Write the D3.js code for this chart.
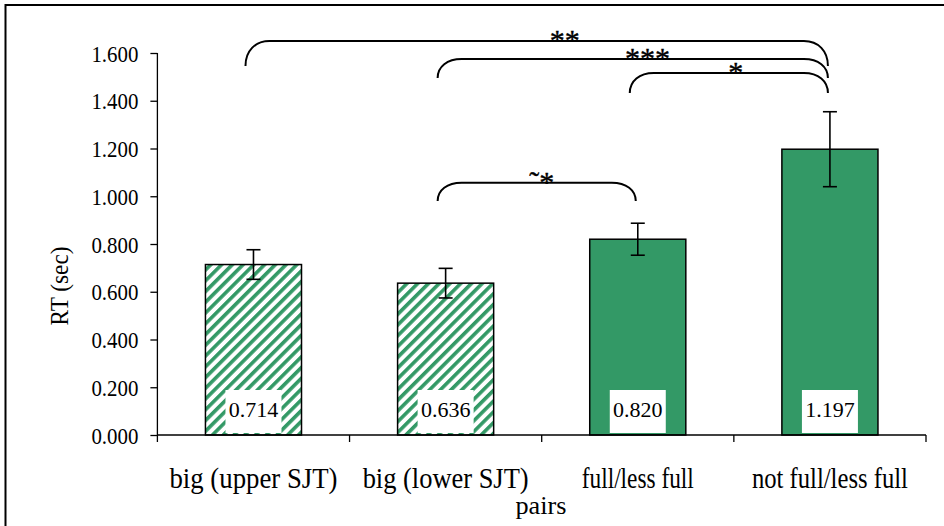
<!DOCTYPE html>
<html><head><meta charset="utf-8">
<script src="https://cdn.jsdelivr.net/npm/d3@7"></script>
<style>
html,body{margin:0;padding:0;background:#fff;}
svg{display:block;}
</style></head>
<body>
<svg id="chart" width="944" height="526"></svg>
<script>
// ---- data ----
const categories = ["big (upper SJT)", "big (lower SJT)", "full/less full", "not full/less full"];
const values = [0.714, 0.636, 0.820, 1.197];
const errors = [0.062, 0.062, 0.067, 0.157];
const hatched = [true, true, false, false];
const yTicks = [0, 0.2, 0.4, 0.6, 0.8, 1.0, 1.2, 1.4, 1.6];
const yTitle = "RT (sec)";
const xTitle = "pairs";
// significance brackets: category span, levels in data units, label
const brackets = [
  {from: 0, to: 3, top: 1.650, bottom: 1.546, label: "**", labelAt: 1.62},
  {from: 1, to: 3, top: 1.575, bottom: 1.495, label: "***", labelAt: 2.05},
  {from: 2, to: 3, top: 1.516, bottom: 1.432, label: "*", labelAt: 2.51},
  {from: 1, to: 2, top: 1.057, bottom: 0.980, label: "˜*", labelAt: 1.50}
];

// ---- layout ----
const FONT = "'Liberation Serif', 'Times New Roman', serif";
const green = "#339966";
const plot = {left: 157.4, right: 926, top: 53, bottom: 435};
const catLabelWidths = [168, 166, 112, 156];

const svg = d3.select("#chart");

// outer frame
svg.append("rect").attr("x", 5.5).attr("y", 5).attr("width", 960).attr("height", 540)
  .attr("fill", "none").attr("stroke", "#000").attr("stroke-width", 2);

// hatch pattern
const defs = svg.append("defs");
const pat = defs.append("pattern").attr("id", "hatch").attr("patternUnits", "userSpaceOnUse")
  .attr("width", 7.6).attr("height", 7.6).attr("patternTransform", "rotate(45)");
pat.append("rect").attr("width", 7.6).attr("height", 7.6).attr("fill", "#fff");
pat.append("rect").attr("x", 0).attr("width", 3.6).attr("height", 7.6).attr("fill", green);

const x = d3.scaleBand().domain(categories).range([plot.left, plot.right]).paddingInner(0).paddingOuter(0);
const y = d3.scaleLinear().domain([0, 1.6]).range([plot.bottom, plot.top]);
const barW = x.bandwidth() / 2;
const cx = i => x(categories[i]) + x.bandwidth() / 2;

// bars
svg.append("g").selectAll("rect").data(values).join("rect")
  .attr("x", (d, i) => cx(i) - barW / 2)
  .attr("y", d => y(d))
  .attr("width", barW)
  .attr("height", d => y(0) - y(d))
  .attr("fill", (d, i) => hatched[i] ? "url(#hatch)" : green)
  .attr("stroke", "#000").attr("stroke-width", 1.5);

// error bars
const eg = svg.append("g").attr("stroke", "#000").attr("stroke-width", 1.6);
values.forEach((v, i) => {
  const xc = cx(i);
  eg.append("line").attr("x1", xc).attr("x2", xc).attr("y1", y(v + errors[i])).attr("y2", y(v - errors[i]));
  eg.append("line").attr("x1", xc - 7).attr("x2", xc + 7).attr("y1", y(v + errors[i])).attr("y2", y(v + errors[i]));
  eg.append("line").attr("x1", xc - 7).attr("x2", xc + 7).attr("y1", y(v - errors[i])).attr("y2", y(v - errors[i]));
});

// value label boxes
const lg = svg.append("g");
values.forEach((v, i) => {
  const xc = cx(i);
  lg.append("rect").attr("x", xc - 28).attr("y", y(0) - 45).attr("width", 56).attr("height", 43).attr("fill", "#fff");
  lg.append("text").attr("x", xc).attr("y", y(0) - 18).attr("text-anchor", "middle")
    .style("font-family", FONT).attr("font-size", 22).attr("fill", "#000").text(d3.format(".3f")(v));
});

// y axis
const yAxis = svg.append("g").attr("transform", `translate(${plot.left},0)`)
  .call(d3.axisLeft(y).tickValues(yTicks).tickFormat(d3.format(".3f")).tickSize(7).tickPadding(12));
yAxis.attr("font-family", null);
yAxis.select(".domain").attr("stroke", "#000").attr("stroke-width", 1.3).attr("d", `M0,${plot.top}V${plot.bottom}`);
yAxis.selectAll(".tick line").attr("stroke", "#000").attr("stroke-width", 1.3);
yAxis.selectAll(".tick text").style("font-family", FONT).attr("font-size", 22.5)
  .attr("fill", "#000").attr("dy", "0.36em")
  .attr("textLength", 47).attr("lengthAdjust", "spacingAndGlyphs");

// x axis
const xAxis = svg.append("g").attr("transform", `translate(0,${plot.bottom})`)
  .call(d3.axisBottom(x).tickValues([]).tickSizeOuter(0));
xAxis.select(".domain").attr("stroke", "#000").attr("stroke-width", 1.3).attr("d", `M${plot.left},0H${plot.right}`);
const bounds = categories.map(c => x(c)).concat([plot.right]);
xAxis.selectAll("line.bt").data(bounds).join("line").attr("class", "bt")
  .attr("x1", d => d).attr("x2", d => d).attr("y1", 0).attr("y2", 7)
  .attr("stroke", "#000").attr("stroke-width", 1.3);
svg.append("g").selectAll("text").data(categories).join("text")
  .attr("x", (d, i) => cx(i)).attr("y", 488).attr("text-anchor", "middle")
  .style("font-family", FONT).attr("font-size", 29).attr("fill", "#000")
  .attr("textLength", (d, i) => catLabelWidths[i]).attr("lengthAdjust", "spacingAndGlyphs")
  .text(d => d);

// axis titles
svg.append("text").attr("x", 541).attr("y", 514).attr("text-anchor", "middle")
  .style("font-family", FONT).attr("font-size", 26)
  .attr("textLength", 51).attr("lengthAdjust", "spacingAndGlyphs").text(xTitle);
svg.append("text").attr("transform", "translate(68,286) rotate(-90)").attr("text-anchor", "middle")
  .style("font-family", FONT).attr("font-size", 25)
  .attr("textLength", 79).attr("lengthAdjust", "spacingAndGlyphs").text(yTitle);

// brackets
const bg = svg.append("g");
brackets.forEach(b => {
  const x1 = cx(b.from) - 8, x2 = cx(b.to) - 2;
  const yt = y(b.top), yb = y(b.bottom);
  const h = yb - yt, r = 24;
  const p = d3.path();
  p.moveTo(x1, yb);
  p.bezierCurveTo(x1, yb - 0.6 * h, x1 + r * 0.4, yt, x1 + r, yt);
  p.lineTo(x2 - r, yt);
  p.bezierCurveTo(x2 - r * 0.4, yt, x2, yb - 0.6 * h, x2, yb);
  bg.append("path").attr("d", p.toString()).attr("fill", "none").attr("stroke", "#000").attr("stroke-width", 2);
  bg.append("text").attr("x", cx(0) + b.labelAt * x.step()).attr("y", yt + 9)
    .attr("text-anchor", "middle").style("font-family", FONT).attr("font-size", 30)
    .attr("fill", "#000").attr("stroke", "#000").attr("stroke-width", 0.4).text(b.label);
});
</script>
</body></html>
